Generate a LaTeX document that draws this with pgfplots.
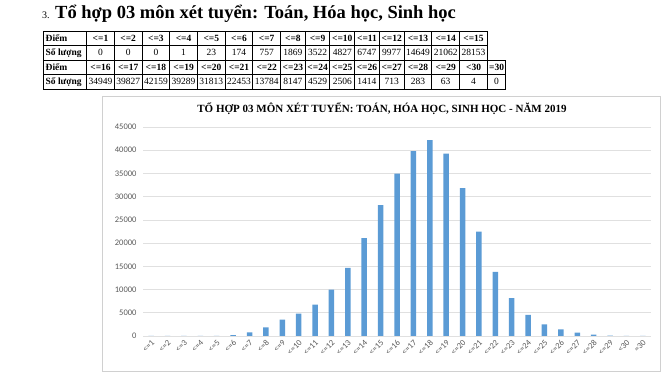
\documentclass[border=0pt]{standalone}
\usepackage{pgfplots}
\pgfplotsset{compat=1.18}
\usepackage{array}
\usepackage{fontspec}
\setmainfont{Liberation Serif}
\newfontfamily\carl{Carlito}
\definecolor{barblue}{HTML}{5B9BD5}
\definecolor{tickc}{HTML}{595959}
\definecolor{gridc}{HTML}{E0E0E0}
\definecolor{framec}{HTML}{D0D0D0}
\begin{document}
\begin{tikzpicture}
\useasboundingbox (0pt,0pt) rectangle (665pt,374pt);
% heading
\node[anchor=base west, inner sep=0, font=\fontsize{10}{12}\selectfont] at (42pt,355pt) {3.};
\node[anchor=base west, inner sep=0, font=\fontsize{18.5}{22}\selectfont\bfseries] at (55pt,355pt) {Tổ hợp 03 môn xét tuyển: Toán, Hóa học, Sinh học};
% tables
\setlength{\tabcolsep}{0pt}
\setlength{\arrayrulewidth}{0.9pt}
\renewcommand{\arraystretch}{1}
\node[anchor=north west, inner sep=0, font=\fontsize{9.5}{13.4}\selectfont] (t1) at (43pt,343pt) {%
\begin{tabular}{|w{l}{42.1pt}|*{7}{w{c}{26.8pt}|}*{5}{w{c}{23.8pt}|}*{3}{w{c}{26.9pt}|}}
\hline
\textbf{\,Điểm} & \textbf{<=1} & \textbf{<=2} & \textbf{<=3} & \textbf{<=4} & \textbf{<=5} & \textbf{<=6} & \textbf{<=7} & \textbf{<=8} & \textbf{<=9} & \textbf{<=10} & \textbf{<=11} & \textbf{<=12} & \textbf{<=13} & \textbf{<=14} & \textbf{<=15} \\ \hline
\textbf{\,Số lượng} & 0 & 0 & 0 & 1 & 23 & 174 & 757 & 1869 & 3522 & 4827 & 6747 & 9977 & 14649 & 21062 & 28153 \\ \hline
\end{tabular}};
\node[anchor=north west, inner sep=0, font=\fontsize{9.5}{13.4}\selectfont] at ([yshift=0.9pt]t1.south west) {%
\begin{tabular}{|w{l}{42.1pt}|*{7}{w{c}{26.8pt}|}*{5}{w{c}{23.8pt}|}*{3}{w{c}{26.9pt}|}w{c}{17.4pt}|}
\hline
\textbf{\,Điểm} & \textbf{<=16} & \textbf{<=17} & \textbf{<=18} & \textbf{<=19} & \textbf{<=20} & \textbf{<=21} & \textbf{<=22} & \textbf{<=23} & \textbf{<=24} & \textbf{<=25} & \textbf{<=26} & \textbf{<=27} & \textbf{<=28} & \textbf{<=29} & \textbf{<30} & \textbf{=30} \\ \hline
\textbf{\,Số lượng} & 34949 & 39827 & 42159 & 39289 & 31813 & 22453 & 13784 & 8147 & 4529 & 2506 & 1414 & 713 & 283 & 63 & 4 & 0 \\ \hline
\end{tabular}};
% chart frame
\draw[framec, line width=0.8pt] (102pt,3pt) rectangle (660pt,278pt);
\node[anchor=base, inner sep=0, font=\fontsize{11}{13}\selectfont\bfseries] at (382pt,261.5pt) {TỔ HỢP 03 MÔN XÉT TUYỂN: TOÁN, HÓA HỌC, SINH HỌC - NĂM 2019};
\begin{axis}[
  scale only axis,
  at={(143pt,38pt)}, anchor=south west,
  width=508pt, height=209pt,
  xmin=-0.5, xmax=30.5,
  ymin=0, ymax=45000,
  ytick={0,5000,...,45000},
  xtick={0,...,30},
  xticklabels={<=1,<=2,<=3,<=4,<=5,<=6,<=7,<=8,<=9,<=10,<=11,<=12,<=13,<=14,<=15,<=16,<=17,<=18,<=19,<=20,<=21,<=22,<=23,<=24,<=25,<=26,<=27,<=28,<=29,<30,=30},
  axis line style={draw=none},
  major tick length=0pt,
  ymajorgrids,
  grid style={gridc, line width=0.7pt},
  scaled y ticks=false,
  /pgf/number format/assume math mode=true,
  /pgf/number format/1000 sep={},
  yticklabel style={font=\carl\fontsize{8.5}{10}\selectfont, text=tickc, xshift=-3pt},
  xticklabel style={font=\carl\fontsize{8.5}{10}\selectfont, text=tickc, rotate=45, anchor=east, yshift=-5pt, xshift=1pt},
  ybar, bar width=5.5pt,
]
\addplot[fill=barblue, draw=none] coordinates {
(0,0) (1,0) (2,0) (3,1) (4,23) (5,174) (6,757) (7,1869) (8,3522) (9,4827)
(10,6747) (11,9977) (12,14649) (13,21062) (14,28153) (15,34949) (16,39827)
(17,42159) (18,39289) (19,31813) (20,22453) (21,13784) (22,8147) (23,4529)
(24,2506) (25,1414) (26,713) (27,283) (28,63) (29,4) (30,0)};
\end{axis}
\end{tikzpicture}
\end{document}
